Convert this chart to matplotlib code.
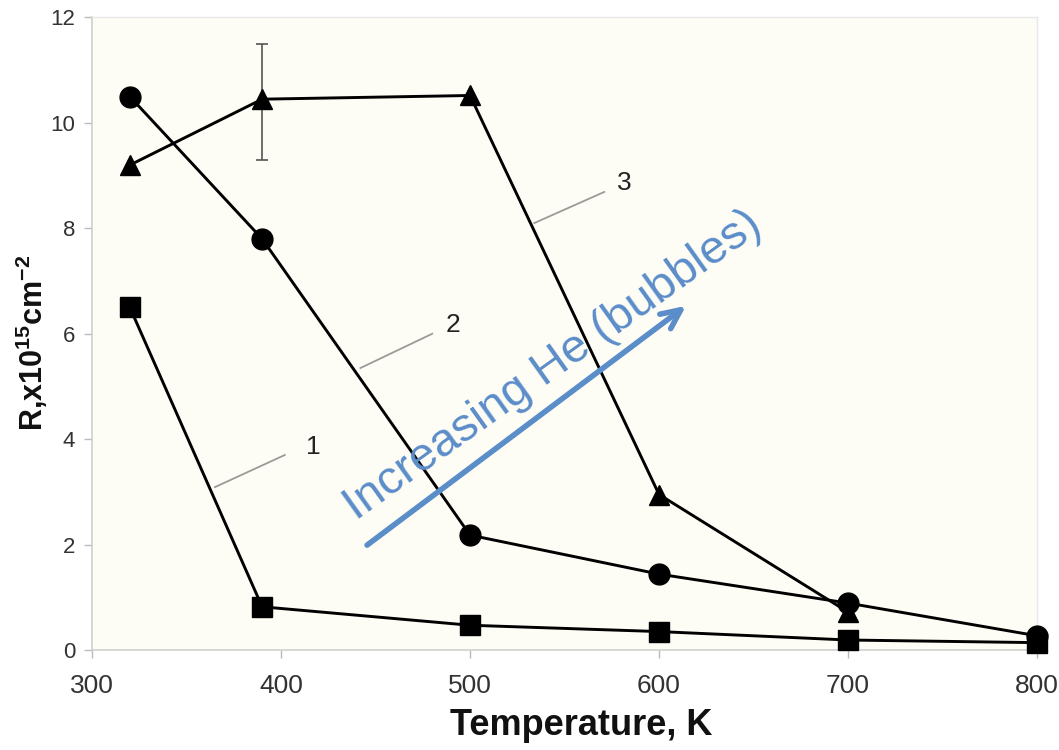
import matplotlib
matplotlib.use("Agg")
import matplotlib.pyplot as plt

plt.rcParams['font.family'] = ['Liberation Sans', 'DejaVu Sans']
plt.rcParams['mathtext.fontset'] = 'custom'
plt.rcParams['mathtext.rm'] = 'Liberation Sans:bold'
plt.rcParams['mathtext.bf'] = 'Liberation Sans:bold'
plt.rcParams['mathtext.it'] = 'Liberation Sans:bold'

# ---- data ----
temps_1 = [320, 390, 500, 600, 700, 800]
r_1 = [6.5, 0.82, 0.47, 0.35, 0.19, 0.14]
temps_2 = [320, 390, 500, 600, 700, 800]
r_2 = [10.5, 7.8, 2.18, 1.44, 0.89, 0.27]
temps_3 = [320, 390, 500, 600, 700]
r_3 = [9.2, 10.45, 10.52, 2.95, 0.72]
err_temp = [390]
err_val = [10.45]
err_low = [1.15]
err_high = [1.05]
x_ticks = [300, 400, 500, 600, 700, 800]
y_ticks = [0, 2, 4, 6, 8, 10, 12]
curve_labels = ["1", "2", "3"]

fig = plt.figure(figsize=(10.59, 7.5), dpi=100)
ax = fig.add_axes([0.0869, 0.1333, 0.8924, 0.8434])
ax.set_facecolor('#FDFDF6')

ax.set_xlim(300, 800)
ax.set_ylim(0, 12)

lw = 2.1
ax.errorbar(err_temp, err_val, yerr=[err_low, err_high], fmt='none',
            ecolor='#555555', elinewidth=1.2, capsize=4.5, capthick=1.2, zorder=2)
ax.plot(temps_3, r_3, color='black', lw=lw, marker='^', markersize=14,
        clip_on=False, zorder=3)
ax.plot(temps_2, r_2, color='black', lw=lw, marker='o', markersize=15,
        clip_on=False, zorder=4)
ax.plot(temps_1, r_1, color='black', lw=lw, marker='s', markersize=14,
        clip_on=False, zorder=5)

# leader lines and curve numbers
leaders = [((365, 3.09), (402, 3.7), (413, 3.85)),
           ((442, 5.35), (480, 6.0), (487, 6.17)),
           ((534, 8.1), (571, 8.69), (578, 8.86))]
for lab, (p0, p1, pt) in zip(curve_labels, leaders):
    ax.plot([p0[0], p1[0]], [p0[1], p1[1]], color='#9A9A9A', lw=1.3, zorder=2)
    ax.text(pt[0], pt[1], lab, fontsize=19, color='#222222',
            ha='left', va='center', zorder=6)

# blue arrow and annotation
blue = '#5B8DC9'
ax.annotate('', xy=(614.3, 6.53), xytext=(445.5, 1.99),
            arrowprops=dict(arrowstyle='->,head_length=1.4,head_width=0.65',
                            color=blue, lw=4, shrinkA=0, shrinkB=0),
            zorder=7)
ax.text(439.5, 2.45, 'Increasing He (bubbles)', color=blue, fontsize=34,
        rotation=35.5, rotation_mode='anchor', ha='left', va='baseline',
        zorder=7)

# axes styling
for side in ['left', 'bottom']:
    ax.spines[side].set_color('#CFCFCF')
    ax.spines[side].set_linewidth(1.2)
for side in ['top', 'right']:
    ax.spines[side].set_color('#E8E8E8')
    ax.spines[side].set_linewidth(1.0)

ax.set_xticks(x_ticks)
ax.set_yticks(y_ticks)
ax.tick_params(axis='x', direction='out', length=6, width=1, color='#BBBBBB',
               labelsize=19, labelcolor='#333333', pad=11)
ax.tick_params(axis='y', direction='out', length=6, width=1, color='#BBBBBB',
               labelsize=16, labelcolor='#333333', pad=6)

ax.set_xlabel('Temperature, K', fontsize=26, fontweight='bold', color='#111111')
ax.xaxis.set_label_coords(0.518, -0.092)
ax.set_ylabel(r'R,x10$^{15}$cm$^{-2}$', fontsize=22, fontweight='bold',
              color='#111111')
ax.yaxis.set_label_coords(-0.044, 0.485)

fig.savefig('out.png', dpi=100, facecolor='white')
